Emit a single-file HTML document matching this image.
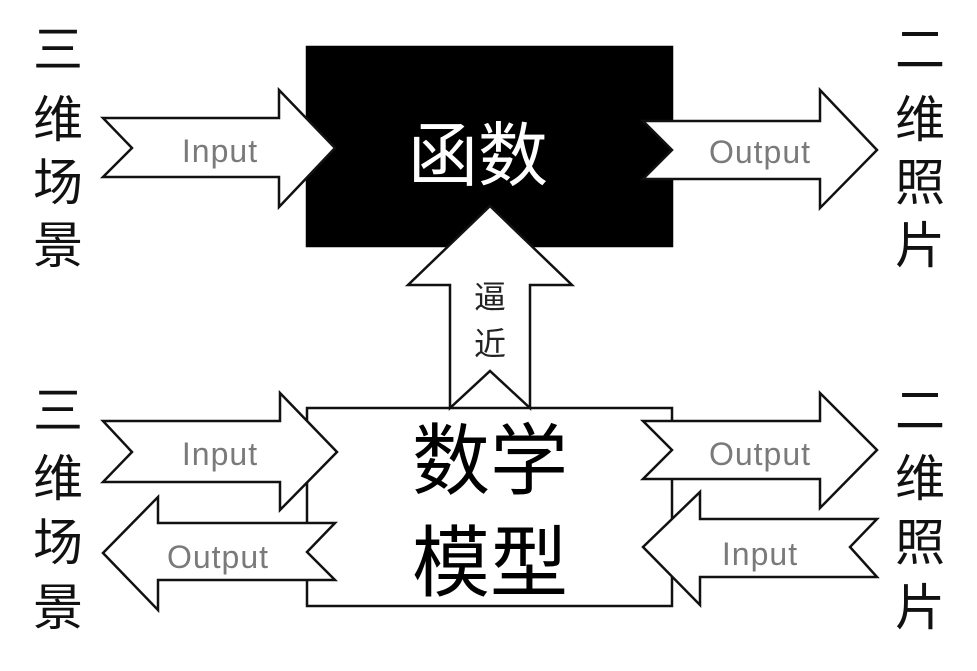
<!DOCTYPE html>
<html><head><meta charset="utf-8"><style>
html,body{margin:0;padding:0;background:#fff;}
svg{display:block;}
.cj{font-family:"Liberation Sans","Noto Sans CJK SC",sans-serif;}
.lbl{font-family:"Liberation Sans","DejaVu Sans",sans-serif;font-size:32px;fill:#7a7a7a;letter-spacing:1px;}
</style></head><body>
<svg width="977" height="671" viewBox="0 0 977 671" xmlns="http://www.w3.org/2000/svg">
<g fill="#fff" stroke="#111" stroke-width="2.5" stroke-linejoin="miter">
<rect x="307" y="47" width="365" height="199" fill="#000" stroke="#000"/>
<rect x="307" y="408" width="365" height="198"/>
<polygon points="450,408 450,285 408,285 490,206 572,285 530,285 530,408 490,371"/>
<polygon points="103,118 279,118 279,90 335,148 279,207 279,177 103,177 132,148"/>
<polygon points="643,121 820,121 820,90 877,150 820,208 820,179 643,179 672,150"/>
<polygon points="103,421 280,421 280,393 337,452 280,510 280,482 103,482 132,452"/>
<polygon points="335,523 158,523 158,497 103,553 158,610 158,580 335,580 307,552"/>
<polygon points="643,421 820,421 820,393 877,450 820,508 820,479 643,479 672,450"/>
<polygon points="877,519 700,519 700,492 643,547 700,605 700,577 877,577 850,547"/>
</g>
<text class="cj" x="478" y="180" font-size="70" fill="#fff" text-anchor="middle">函数</text>
<text class="cj" x="490" y="488" font-size="78" fill="#000" text-anchor="middle">数学</text>
<text class="cj" x="490" y="590" font-size="78" fill="#000" text-anchor="middle">模型</text>
<text class="cj" x="490" y="308" font-size="32" fill="#222" text-anchor="middle">逼</text>
<text class="cj" x="490" y="355" font-size="32" fill="#222" text-anchor="middle">近</text>
<text class="lbl" x="220" y="162" text-anchor="middle">Input</text>
<text class="lbl" x="760" y="163" text-anchor="middle">Output</text>
<text class="lbl" x="220" y="465" text-anchor="middle">Input</text>
<text class="lbl" x="760" y="465" text-anchor="middle">Output</text>
<text class="lbl" x="218" y="568" text-anchor="middle">Output</text>
<text class="lbl" x="760" y="565" text-anchor="middle">Input</text>
<g class="cj" font-size="50" fill="#111" text-anchor="middle">
<text x="58" y="67">三</text><text x="58" y="137">维</text><text x="58" y="200">场</text><text x="58" y="263">景</text>
<text x="58" y="428">三</text><text x="58" y="496">维</text><text x="58" y="560">场</text><text x="58" y="625">景</text>
<text x="920" y="67">二</text><text x="920" y="137">维</text><text x="920" y="200">照</text><text x="920" y="263">片</text>
<text x="920" y="428">二</text><text x="920" y="496">维</text><text x="920" y="560">照</text><text x="920" y="625">片</text>
</g>
</svg>
</body></html>
